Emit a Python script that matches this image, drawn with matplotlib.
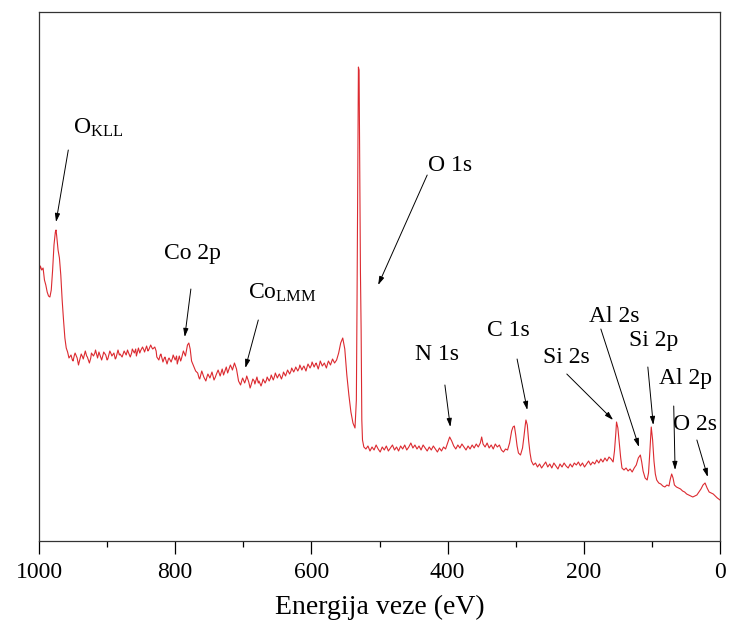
import numpy as np
import matplotlib.pyplot as plt

plt.rcParams['font.family'] = ['Liberation Serif', 'DejaVu Serif']
plt.rcParams['mathtext.fontset'] = 'custom'
plt.rcParams['mathtext.rm'] = 'Liberation Serif'
plt.rcParams['mathtext.it'] = 'Liberation Serif:italic'

# (binding energy eV, intensity a.u.)
okll_region = [
    (1000, 269), (998, 275), (996, 271), (994, 273), (992, 261), (990, 256),
    (988, 249), (986, 245), (984, 244), (982, 251), (980, 271), (978, 296),
    (976, 309), (975, 311), (974, 305), (972, 291), (970, 283), (968, 266),
    (966, 241), (964, 221), (962, 203), (960, 193), (958, 189), (956, 183),
]
co_region = [
    (953, 186), (951, 181), (950, 180), (948, 186), (947, 188), (944, 183),
    (942, 176), (941, 179), (938, 187), (936, 184), (935, 182), (932, 190),
    (930, 185), (929, 184), (926, 178), (924, 183), (923, 188), (920, 185),
    (918, 188), (917, 191), (914, 183), (912, 189), (911, 187), (908, 181),
    (906, 186), (905, 189), (902, 186), (900, 181), (899, 182), (896, 190),
    (894, 187), (893, 185), (890, 188), (888, 182), (887, 183), (884, 191),
    (882, 186), (881, 187), (878, 184), (876, 188), (875, 190), (872, 186),
    (870, 191), (869, 189), (866, 184), (864, 188), (863, 192), (860, 188),
    (858, 192), (857, 185), (854, 193), (852, 188), (851, 190), (848, 194),
    (846, 191), (845, 189), (842, 195), (840, 190), (839, 191), (836, 196),
    (834, 193), (833, 192), (830, 194), (828, 190),
    (827, 184), (824, 181), (822, 186), (821, 187), (818, 179), (816, 183),
    (815, 184), (812, 177), (810, 182), (809, 183), (806, 179), (804, 183),
    (803, 186), (800, 181), (798, 185), (797, 177), (794, 185), (792, 180),
    (791, 182), (788, 190), (785, 185), (782, 196), (780, 198), (778, 192),
    (776, 180), (773, 175), (770, 170),
    (767, 168), (765, 163), (764, 162), (761, 170), (759, 166), (758, 164),
    (755, 160), (753, 165), (752, 167), (749, 163), (747, 167), (746, 169),
    (743, 161), (741, 164), (740, 166), (737, 171), (735, 167), (734, 165),
    (731, 172), (729, 166), (728, 168), (725, 174), (723, 168), (722, 170),
    (719, 176), (717, 173), (716, 171), (713, 178), (710, 172), (707, 160),
    (704, 156), (702, 161), (701, 163), (698, 158), (696, 162), (695, 165),
    (692, 159), (690, 153), (689, 155), (686, 162), (684, 160), (683, 157),
    (680, 164), (678, 158), (677, 160), (674, 155), (672, 159), (671, 162),
    (668, 158), (666, 161), (665, 164), (662, 160), (660, 163), (659, 166),
    (656, 161), (654, 165), (653, 168), (650, 163), (648, 166), (647, 167),
    (644, 162), (642, 166), (641, 169), (638, 165), (636, 169), (635, 171),
    (632, 167), (630, 170), (629, 173), (626, 169), (624, 172), (623, 174),
    (620, 170), (618, 173), (617, 176), (614, 171), (612, 174), (611, 175),
    (608, 170), (606, 175), (605, 177), (602, 173), (600, 176), (599, 179),
    (596, 174), (594, 177), (593, 178), (590, 172), (588, 177), (587, 180),
    (584, 175), (582, 177), (581, 178), (578, 173), (576, 178), (575, 180),
    (572, 176), (570, 180), (569, 182), (566, 178), (563, 181), (560, 188),
]
o1s_region = [
    (557, 198), (554, 203), (551, 192), (548, 166), (545, 146), (542, 129),
    (539, 118), (536, 113), (534, 141), (533, 241), (532, 361), (531, 474),
    (530, 471), (529, 361), (528, 268), (527, 211), (526, 121), (525, 101),
    (523, 94),
    (520, 92), (517, 95), (514, 90), (511, 94), (508, 91), (505, 96),
    (502, 92), (499, 89), (496, 94), (493, 91), (490, 95), (487, 90),
    (484, 93), (481, 96), (478, 91), (475, 94), (472, 90), (469, 95),
    (466, 92), (463, 96), (460, 91), (457, 94), (454, 98), (451, 93),
    (448, 96), (445, 92), (442, 95), (439, 91), (436, 96), (433, 93),
    (430, 90), (427, 94), (424, 91), (421, 95), (418, 92), (415, 89),
    (412, 93), (409, 90), (406, 94), (403, 92), (400, 98), (397, 104),
    (394, 100), (391, 95), (388, 92), (385, 96), (382, 93), (379, 97),
    (376, 94), (373, 91), (370, 95), (367, 92), (364, 96), (361, 93),
    (358, 97), (355, 94), (352, 98), (350, 104), (348, 97), (345, 94),
    (342, 98), (339, 93), (336, 96), (333, 92), (330, 97), (327, 94),
    (324, 96), (321, 91), (318, 89), (315, 92), (312, 91),
]
low_be_region = [
    (309, 98), (306, 110), (304, 114), (302, 115), (300, 106), (298, 95),
    (296, 88), (293, 86), (290, 93), (288, 104), (286, 116), (285, 121),
    (283, 116), (281, 100), (279, 88), (277, 80), (274, 76), (271, 78),
    (268, 74), (265, 77), (262, 73), (259, 76), (256, 79), (253, 74),
    (250, 77), (247, 73), (244, 78), (241, 75), (238, 72), (235, 77),
    (232, 74), (229, 78), (226, 75), (223, 73), (220, 77), (217, 74),
    (214, 78), (211, 76), (208, 79), (205, 75), (202, 78), (199, 74),
    (196, 77), (193, 80), (190, 76), (187, 79), (184, 77), (181, 81),
    (178, 78), (175, 82), (172, 79), (169, 83), (166, 80), (163, 84),
    (160, 82), (157, 79), (155, 90), (153, 108), (152, 119), (150, 113),
    (148, 98), (146, 84), (144, 73), (141, 71), (138, 73), (135, 70),
    (132, 72), (129, 69), (126, 73), (123, 76), (120, 83), (117, 86),
    (115, 79), (113, 70), (110, 63), (107, 61), (105, 68), (103, 90),
    (101, 114), (99, 101), (97, 80), (95, 67), (93, 61), (90, 58),
    (87, 57), (84, 55), (81, 54), (78, 56), (75, 55), (73, 62),
    (71, 67), (69, 63), (67, 56), (64, 54), (61, 53), (58, 52),
    (55, 50), (52, 49), (49, 47), (46, 46), (43, 45), (40, 44),
    (37, 45), (34, 46), (31, 49), (28, 52), (25, 56), (22, 58),
    (19, 53), (16, 49), (13, 48), (10, 47), (7, 45), (4, 43), (0, 41),
]

# peak labels: text centre, arrow tail, arrow head (eV, intensity)
labels = ['O$_{\\mathrm{KLL}}$', 'Co 2p', 'Co$_{\\mathrm{LMM}}$', 'O 1s', 'N 1s',
          'C 1s', 'Si 2s', 'Al 2s', 'Si 2p', 'Al 2p', 'O 2s']
label_xy = [(913, 413), (774, 288), (643, 248), (396, 376), (416, 187),
            (311, 211), (225, 184), (156, 225), (97, 201), (50, 163), (37, 117)]
arrow_from = [(957, 391), (777, 252), (678, 221), (430, 366), (404, 156),
              (298, 182), (225, 167), (175, 212), (106, 174), (68, 135), (34, 101)]
arrow_to = [(975, 319), (786, 204), (697, 173), (502, 256), (396, 114),
            (283, 131), (157, 121), (119, 94), (98, 116), (66, 71), (18, 64)]

spectrum = np.array(okll_region + co_region + o1s_region + low_be_region)
energy = spectrum[:, 0]
intensity = spectrum[:, 1]

fig = plt.figure(figsize=(7.29, 6.34), dpi=100)
ax = fig.add_axes([0.0535, 0.1467, 0.9342, 0.8343])

ax.plot(energy, intensity, color='#dc2a30', lw=0.8)

for lab, txy, a0, a1 in zip(labels, label_xy, arrow_from, arrow_to):
    ax.text(txy[0], txy[1], lab, fontsize=17, ha='center', va='center')
    ax.annotate('', xy=a1, xytext=a0,
                arrowprops=dict(arrowstyle='-|>,head_length=0.5,head_width=0.15',
                                color='k', lw=0.7, shrinkA=0, shrinkB=0))

ax.set_xlim(1000, 0)
ax.set_ylim(0, 529)
ax.set_xticks([1000, 800, 600, 400, 200, 0])
ax.set_xticks([900, 700, 500, 300, 100], minor=True)
ax.set_yticks([])
ax.tick_params(axis='x', which='major', direction='out', length=9, width=0.9,
               labelsize=17, pad=6)
ax.tick_params(axis='x', which='minor', direction='out', length=4, width=0.9)
for s in ax.spines.values():
    s.set_linewidth(0.9)
    s.set_color('#333333')
ax.set_xlabel('Energija veze (eV)', fontsize=20, labelpad=9)

fig.savefig('out.png', dpi=100)
